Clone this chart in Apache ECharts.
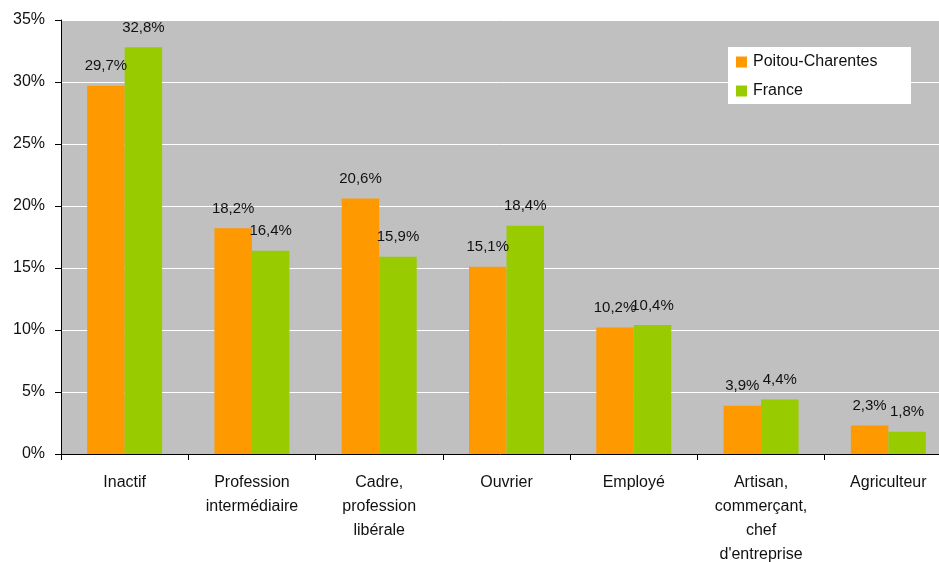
<!DOCTYPE html>
<html><head><meta charset="utf-8">
<script src="https://cdn.jsdelivr.net/npm/echarts@6/dist/echarts.min.js"></script>
<style>html,body{margin:0;padding:0;background:#fff}#c{width:939px;height:562px}</style>
</head><body><div id="c"></div>
<script>
const categories = ["Inactif", "Profession\nintermédiaire", "Cadre,\nprofession\nlibérale", "Ouvrier", "Employé", "Artisan,\ncommerçant,\nchef\nd'entreprise", "Agriculteur"];
const poitou = [29.7, 18.2, 20.6, 15.1, 10.2, 3.9, 2.3];
const france = [32.8, 16.4, 15.9, 18.4, 10.4, 4.4, 1.8];
const seriesNames = ["Poitou-Charentes", "France"];
const yTicks = {min: 0, max: 35, interval: 5};

const font = "'Liberation Sans', Arial, sans-serif";
const fmt = p => p.value.toFixed(1).replace('.', ',') + '%';
const chart = echarts.init(document.getElementById('c'), null, {renderer: 'canvas'});
chart.setOption({
  animation: false,
  backgroundColor: '#ffffff',
  textStyle: {fontFamily: font},
  grid: {left: 61, top: 20, right: -13, bottom: 108, outerBoundsMode: 'none', show: true, backgroundColor: '#C0C0C0', borderWidth: 0, containLabel: false},
  graphic: [{type: 'rect', left: 728, top: 47, shape: {width: 183, height: 57}, style: {fill: '#ffffff'}, z: 5}],
  legend: {
    orient: 'vertical', left: 728, top: 47, padding: [7, 10, 7, 8],
    itemWidth: 11, itemHeight: 11, itemGap: 13, icon: 'rect', z: 10,
    textStyle: {fontFamily: font, fontSize: 16, color: '#111', lineHeight: 16, padding: [0, 0, 0, 1]},
    data: seriesNames
  },
  xAxis: {
    type: 'category', data: categories,
    axisLine: {lineStyle: {color: '#000', width: 1}},
    axisTick: {show: true, length: 6, lineStyle: {color: '#000'}},
    axisLabel: {fontFamily: font, fontSize: 16, color: '#111', lineHeight: 24, margin: 17, interval: 0}
  },
  yAxis: {
    type: 'value', min: yTicks.min, max: yTicks.max, interval: yTicks.interval,
    axisLine: {show: true, lineStyle: {color: '#000', width: 1}},
    axisTick: {show: true, length: 6, lineStyle: {color: '#000'}},
    splitLine: {show: true, lineStyle: {color: '#ffffff', width: 1}},
    axisLabel: {fontFamily: font, fontSize: 16, color: '#111', margin: 16, formatter: v => v + '%'}
  },
  series: [
    {name: seriesNames[0], type: 'bar', data: poitou, barWidth: 37.5, barGap: '0%', itemStyle: {color: '#FF9900'},
     label: {show: true, position: 'top', distance: 12, fontFamily: font, fontSize: 15, color: '#111', formatter: fmt}},
    {name: seriesNames[1], type: 'bar', data: france, barWidth: 37.5, barGap: '0%', itemStyle: {color: '#99CC00'},
     label: {show: true, position: 'top', distance: 12, fontFamily: font, fontSize: 15, color: '#111', formatter: fmt}}
  ]
});
</script></body></html>
